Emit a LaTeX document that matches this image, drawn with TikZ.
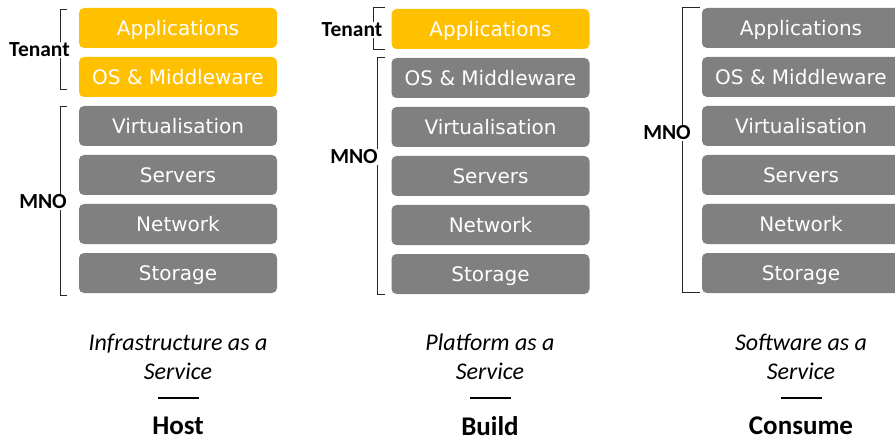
\documentclass[tikz,border=0pt]{standalone}
\usepackage{fontspec}
\usetikzlibrary{calc}
\setmainfont{Carlito}
\newfontfamily\layerfont{DejaVu Sans}
\definecolor{tenantgold}{HTML}{FFC000}
\definecolor{mnogray}{HTML}{808080}

\begin{document}
\begin{tikzpicture}[x=1pt,y=-1pt,
  layer/.style={rounded corners=5pt, minimum width=198pt, minimum height=40pt,
    inner sep=0pt, text height=14.6pt, text depth=0pt, text=white,
    font=\layerfont\fontsize{20}{24}\selectfont},
  tenantlayer/.style={layer, fill=tenantgold},
  mnolayer/.style={layer, fill=mnogray},
  owner/.style={font=\fontsize{21.5}{24}\selectfont\bfseries, fill=white, inner sep=1pt},
  brace/.style={line width=1pt, black!85},
  model/.style={font=\fontsize{24}{29}\selectfont\itshape, align=center},
  role/.style={font=\fontsize{27}{30}\selectfont\bfseries},
  divider/.style={line width=1.2pt, black}]
\useasboundingbox (0,0) rectangle (895,441);
\clip (0,0) rectangle (895,441);

% ---- Infrastructure as a Service ----
\node[tenantlayer] (app1) at (178,28)  {Applications};
\node[tenantlayer] (os1)  at (178,77)  {OS \& Middleware};
\node[mnolayer]    (vir1) at (178,126) {Virtualisation};
\node[mnolayer]    (srv1) at (178,175) {Servers};
\node[mnolayer]    (net1) at (178,224) {Network};
\node[mnolayer]    (sto1) at (178,273) {Storage};

% ---- Platform as a Service ----
\node[tenantlayer] (app2) at (490.5,29)  {Applications};
\node[mnolayer]    (os2)  at (490.5,78)  {OS \& Middleware};
\node[mnolayer]    (vir2) at (490.5,127) {Virtualisation};
\node[mnolayer]    (srv2) at (490.5,176) {Servers};
\node[mnolayer]    (net2) at (490.5,225) {Network};
\node[mnolayer]    (sto2) at (490.5,274) {Storage};

% ---- Software as a Service ----
\node[mnolayer] (app3) at (801,28)  {Applications};
\node[mnolayer] (os3)  at (801,77)  {OS \& Middleware};
\node[mnolayer] (vir3) at (801,126) {Virtualisation};
\node[mnolayer] (srv3) at (801,175) {Servers};
\node[mnolayer] (net3) at (801,224) {Network};
\node[mnolayer] (sto3) at (801,273) {Storage};

% ---- responsibility brackets ----
\draw[brace] ($(app1.north west)+(-12,2)$) -- ++(-6,0) |- ($(os1.south west)+(-12,-8)$);
\draw[brace] ($(vir1.north west)+(-12,1)$) -- ++(-6,0) |- ($(sto1.south west)+(-12,2)$);
\draw[brace] ($(app2.north west)+(-6,-1)$) -- ++(-12,0) |- ($(app2.south west)+(-6,0)$);
\draw[brace] ($(os2.north west)+(-6,0)$) -- ++(-8,0) |- ($(sto2.south west)+(-6,0)$);
\draw[brace] ($(app3.north west)+(-2,0)$) -- ++(-17,0) |- ($(sto3.south west)+(-2,-1)$);

\node[owner] (ten1) at (39.5,50) {Tenant};
\node[owner] (mno1) at (43,202)  {MNO};
\node[owner] (ten2) at (352,30)  {Tenant};
\node[owner] (mno2) at (354,157) {MNO};
\node[owner] (mno3) at (667,133) {MNO};

% ---- service model captions ----
\node[model] (cap1) at (178,357) {Infrastructure as a\\Service};
\node[model] (cap2) at (490,357) {Platform as a\\Service};
\node[model] (cap3) at (801,357) {Software as a\\Service};

\coordinate (d1) at (178,398);
\coordinate (d2) at (490,398);
\coordinate (d3) at (801,398);
\draw[divider] ($(d1)+(-20.5,0)$) -- ($(d1)+(20.5,0)$);
\draw[divider] ($(d2)+(-20.5,0)$) -- ($(d2)+(20.5,0)$);
\draw[divider] ($(d3)+(-20.5,0)$) -- ($(d3)+(20.5,0)$);

\node[role] (role1) at (178,426) {Host};
\node[role] (role2) at (490,426) {Build};
\node[role] (role3) at (801,426) {Consume};
\end{tikzpicture}
\end{document}
